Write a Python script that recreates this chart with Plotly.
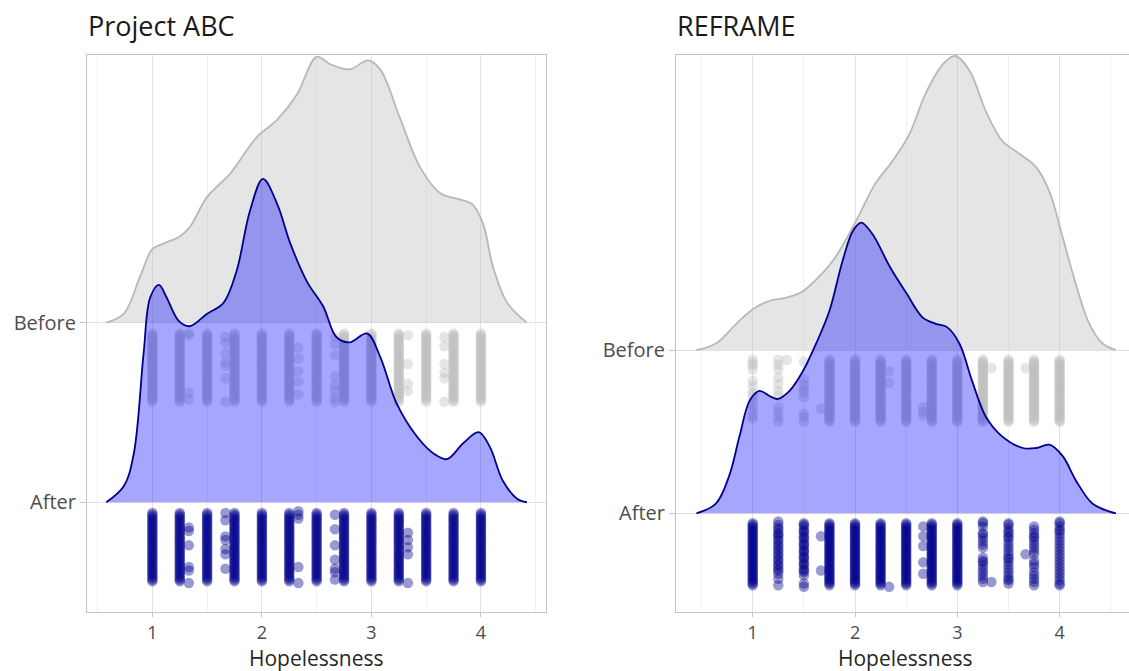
import plotly.graph_objects as go

# ---------------------------------------------------------------------------
# Ridge outlines: x position and ridge height (in category units above baseline)
# ---------------------------------------------------------------------------
abc_before_x = [0.58, 0.74, 0.89, 1.0, 1.1, 1.25, 1.34, 1.5, 1.71, 1.95, 2.14, 2.32, 2.5,
                2.62, 2.8, 2.97, 3.08, 3.26, 3.44, 3.63, 3.78, 3.92, 4.02, 4.11, 4.24, 4.42]
abc_before_h = [0.0, 0.05, 0.26, 0.41, 0.44, 0.48, 0.53, 0.70, 0.83, 1.03, 1.13, 1.27, 1.48,
                1.44, 1.41, 1.46, 1.41, 1.14, 0.87, 0.72, 0.69, 0.66, 0.55, 0.31, 0.11, 0.0]

abc_after_x = [0.58, 0.74, 0.83, 0.92, 0.98, 1.06, 1.13, 1.24, 1.34, 1.5, 1.65, 1.77, 1.89,
               2.01, 2.14, 2.26, 2.41, 2.56, 2.68, 2.8, 2.96, 3.08, 3.23, 3.41, 3.57, 3.69,
               3.84, 3.98, 4.08, 4.2, 4.33, 4.42]
abc_after_h = [0.0, 0.09, 0.27, 0.83, 1.14, 1.21, 1.14, 1.01, 0.98, 1.05, 1.11, 1.29, 1.62,
               1.80, 1.66, 1.44, 1.23, 1.09, 0.92, 0.89, 0.94, 0.81, 0.55, 0.37, 0.27, 0.24,
               0.33, 0.39, 0.31, 0.12, 0.02, 0.0]

reframe_before_x = [0.45, 0.64, 0.84, 1.0, 1.16, 1.33, 1.49, 1.65, 1.81, 2.01, 2.2, 2.37, 2.53,
                    2.69, 2.86, 2.98, 3.12, 3.28, 3.44, 3.61, 3.77, 3.9, 4.03, 4.16, 4.29, 4.42, 4.55]
reframe_before_h = [0.0, 0.04, 0.16, 0.25, 0.30, 0.32, 0.36, 0.45, 0.57, 0.79, 1.02, 1.16, 1.32,
                    1.57, 1.75, 1.80, 1.71, 1.46, 1.28, 1.20, 1.12, 0.97, 0.69, 0.40, 0.16, 0.04, 0.0]

reframe_after_x = [0.45, 0.64, 0.77, 0.87, 0.97, 1.065, 1.16, 1.24, 1.36, 1.49, 1.62, 1.75, 1.88,
                   1.98, 2.06, 2.17, 2.34, 2.5, 2.66, 2.79, 2.9, 3.02, 3.15, 3.28, 3.44, 3.64,
                   3.77, 3.9, 4.03, 4.16, 4.32, 4.49, 4.55]
reframe_after_h = [0.0, 0.06, 0.23, 0.47, 0.69, 0.75, 0.72, 0.70, 0.75, 0.87, 1.04, 1.24, 1.55,
                   1.73, 1.78, 1.71, 1.51, 1.35, 1.20, 1.16, 1.14, 1.04, 0.80, 0.59, 0.47, 0.40,
                   0.40, 0.42, 0.35, 0.20, 0.06, 0.01, 0.0]

# ---------------------------------------------------------------------------
# Individual responses: score -> vertical offsets below the ridge baseline
# ---------------------------------------------------------------------------
DENSE = [0.06, 0.07, 0.08, 0.09, 0.10, 0.11, 0.12, 0.13, 0.14, 0.15, 0.16, 0.17, 0.18,
         0.19, 0.20, 0.21, 0.22, 0.23, 0.24, 0.25, 0.26, 0.27, 0.28, 0.29, 0.30, 0.31,
         0.32, 0.33, 0.34, 0.35, 0.36, 0.37, 0.38, 0.39, 0.40, 0.41, 0.42, 0.43, 0.44]

abc_before_pts = {
    1.0: DENSE, 1.25: DENSE, 1.333: [0.06, 0.07, 0.39, 0.43], 1.5: DENSE,
    1.667: [0.08, 0.11, 0.17, 0.22, 0.24, 0.31, 0.44], 1.75: DENSE, 2.0: DENSE,
    2.25: DENSE, 2.333: [0.14, 0.20, 0.27, 0.33, 0.40], 2.5: DENSE,
    2.667: [0.08, 0.12, 0.18, 0.30, 0.35, 0.38, 0.42, 0.44], 2.75: DENSE, 3.0: DENSE,
    3.25: DENSE, 3.333: [0.07, 0.23, 0.34, 0.38], 3.5: DENSE,
    3.667: [0.08, 0.13, 0.23, 0.28, 0.31, 0.44], 3.75: DENSE, 4.0: DENSE,
}
abc_after_pts = {
    1.0: DENSE, 1.25: DENSE, 1.333: [0.14, 0.16, 0.24, 0.36, 0.38, 0.45], 1.5: DENSE,
    1.667: [0.06, 0.10, 0.19, 0.21, 0.26, 0.29, 0.37], 1.75: DENSE, 2.0: DENSE,
    2.25: DENSE, 2.333: [0.05, 0.07, 0.09, 0.36, 0.45], 2.5: DENSE,
    2.667: [0.07, 0.15, 0.24, 0.32, 0.37, 0.39, 0.43], 2.75: DENSE, 3.0: DENSE,
    3.25: DENSE, 3.333: [0.17, 0.21, 0.25, 0.29, 0.45], 3.5: DENSE, 3.75: DENSE, 4.0: DENSE,
}
reframe_before_pts = {
    1.0: [0.06, 0.08, 0.09, 0.12, 0.19, 0.22, 0.26, 0.28, 0.31, 0.34, 0.37, 0.40, 0.42],
    1.25: [0.06, 0.09, 0.12, 0.17, 0.21, 0.25, 0.28, 0.35, 0.38, 0.41, 0.44],
    1.333: [0.06],
    1.5: [0.07, 0.18, 0.21, 0.24, 0.26, 0.29, 0.39, 0.41, 0.44],
    1.667: [0.36], 1.75: DENSE, 2.0: DENSE, 2.25: DENSE, 2.333: [0.13, 0.20],
    2.5: DENSE, 2.667: [0.35, 0.38, 0.40], 2.75: DENSE, 3.0: DENSE, 3.25: DENSE,
    3.333: [0.11], 3.5: DENSE, 3.667: [0.11], 3.75: DENSE, 4.0: DENSE,
}
reframe_after_pts = {
    1.0: DENSE,
    1.25: [0.05, 0.07, 0.09, 0.10, 0.12, 0.13, 0.14, 0.16, 0.17, 0.19, 0.20, 0.22, 0.23,
           0.25, 0.26, 0.28, 0.29, 0.31, 0.32, 0.34, 0.35, 0.37, 0.40, 0.44],
    1.5: [0.06, 0.07, 0.08, 0.10, 0.11, 0.12, 0.14, 0.15, 0.16, 0.18, 0.19, 0.20, 0.22,
          0.23, 0.24, 0.26, 0.27, 0.28, 0.30, 0.31, 0.32, 0.34, 0.35, 0.36, 0.38, 0.43, 0.45],
    1.667: [0.14, 0.35], 1.75: DENSE, 2.0: DENSE, 2.25: DENSE, 2.333: [0.45],
    2.5: DENSE, 2.667: [0.08, 0.14, 0.20, 0.30, 0.37], 2.75: DENSE, 3.0: DENSE,
    3.25: [0.05, 0.06, 0.08, 0.12, 0.13, 0.15, 0.17, 0.19, 0.21, 0.27, 0.29, 0.30, 0.32,
           0.34, 0.36, 0.38, 0.40, 0.42],
    3.333: [0.42],
    3.5: [0.06, 0.07, 0.09, 0.11, 0.12, 0.14, 0.15, 0.17, 0.19, 0.21, 0.23, 0.25, 0.27,
          0.28, 0.30, 0.32, 0.34, 0.36, 0.38, 0.40, 0.41, 0.43],
    3.667: [0.25],
    3.75: [0.08, 0.10, 0.12, 0.14, 0.15, 0.17, 0.19, 0.21, 0.23, 0.25, 0.29, 0.31, 0.33,
           0.36, 0.38, 0.40, 0.42, 0.44],
    4.0: [0.05, 0.06, 0.08, 0.10, 0.11, 0.13, 0.15, 0.17, 0.19, 0.21, 0.23, 0.25, 0.27,
          0.29, 0.31, 0.33, 0.35, 0.37, 0.39, 0.41, 0.43, 0.44],
}

panel_titles = ["Project ABC", "REFRAME"]
group_labels = ["After", "Before"]
x_tick_vals = [1, 2, 3, 4]
x_title = "Hopelessness"

# ---------------------------------------------------------------------------
# Styling
# ---------------------------------------------------------------------------
W, H = 1129, 671
PLOT_TOP, PLOT_BOTTOM = 55, 612
FONT = "Open Sans"
GREY_FILL = "rgba(190,190,190,0.4)"
GREY_LINE = "#b8b8b8"
GREY_PT = "rgba(190,190,190,0.4)"
BLUE_FILL = "rgba(0,0,255,0.35)"
BLUE_LINE = "#00008B"
BLUE_PT = "rgba(0,0,139,0.4)"
GRID = "#e2e2e2"
GRID_MINOR = "#f1f1f1"
FRAME = "#c4c4c4"

fig = go.Figure()


def add_ridge(xs, hs, base, fill, line, xa, ya):
    # baseline that the ridge is filled down to
    fig.add_trace(go.Scatter(x=[xs[0], xs[-1]], y=[base, base], mode="lines",
                             line=dict(width=0, color="rgba(0,0,0,0)"),
                             xaxis=xa, yaxis=ya, hoverinfo="skip", showlegend=False))
    fig.add_trace(go.Scatter(x=xs, y=[base + h for h in hs], mode="lines",
                             line=dict(color=line, width=1.8, shape="spline", smoothing=1.0),
                             fill="tonexty", fillcolor=fill,
                             xaxis=xa, yaxis=ya, hoverinfo="skip", showlegend=False))


def add_points(pts, base, color, xa, ya):
    px, py = [], []
    for score, offsets in pts.items():
        for off in offsets:
            px.append(score)
            py.append(base - off)
    fig.add_trace(go.Scatter(x=px, y=py, mode="markers",
                             marker=dict(size=10.5, color=color, line=dict(width=0)),
                             xaxis=xa, yaxis=ya, hoverinfo="skip", showlegend=False))


# Project ABC panel
add_ridge(abc_before_x, abc_before_h, 2, GREY_FILL, GREY_LINE, "x", "y")
add_points(abc_before_pts, 2, GREY_PT, "x", "y")
add_ridge(abc_after_x, abc_after_h, 1, BLUE_FILL, BLUE_LINE, "x", "y")
add_points(abc_after_pts, 1, BLUE_PT, "x", "y")

# REFRAME panel
add_ridge(reframe_before_x, reframe_before_h, 2, GREY_FILL, GREY_LINE, "x2", "y2")
add_points(reframe_before_pts, 2, GREY_PT, "x2", "y2")
add_ridge(reframe_after_x, reframe_after_h, 1, BLUE_FILL, BLUE_LINE, "x2", "y2")
add_points(reframe_after_pts, 1, BLUE_PT, "x2", "y2")


def xaxis_style(dom, rng, anchor):
    return dict(domain=dom, range=rng, anchor=anchor, tickvals=x_tick_vals,
                ticktext=[str(v) for v in x_tick_vals],
                showgrid=True, gridcolor=GRID, gridwidth=1,
                minor=dict(tickvals=[0.5, 1.5, 2.5, 3.5, 4.5], showgrid=True,
                           gridcolor=GRID_MINOR, gridwidth=1, ticks=""),
                zeroline=False, showline=True, mirror=True, linecolor=FRAME, linewidth=1,
                ticks="outside", ticklen=4, tickcolor=FRAME,
                tickfont=dict(family=FONT, size=18, color="#4d4d4d"))


def yaxis_style(rng, anchor, mirror):
    return dict(domain=[0, 1], range=rng, anchor=anchor, tickvals=[1, 2],
                ticktext=group_labels, showgrid=True, gridcolor=GRID, gridwidth=1,
                zeroline=False, showline=True, mirror=mirror, linecolor=FRAME, linewidth=1,
                ticks="outside", ticklen=6, tickcolor=FRAME,
                tickfont=dict(family=FONT, size=20, color="#4d4d4d"))


left_dom = [87 / W, 546 / W]
right_dom = [676 / W, 1.0]

fig.update_layout(
    width=W, height=H,
    margin=dict(l=0, r=0, t=PLOT_TOP, b=H - PLOT_BOTTOM),
    paper_bgcolor="white", plot_bgcolor="white",
    showlegend=False,
    xaxis=xaxis_style(left_dom, [0.403, 4.594], "y"),
    yaxis=yaxis_style([0.389, 3.49], "x", True),
    xaxis2=xaxis_style(right_dom, [0.25, 4.678], "y2"),
    yaxis2=yaxis_style([0.396, 3.806], "x2", False),
)


def py_to_paper(py):
    return (PLOT_BOTTOM - py) / (PLOT_BOTTOM - PLOT_TOP)


title_font = dict(family=FONT, size=27, color="#1a1a1a")
axis_title_font = dict(family=FONT, size=21, color="#262626")
annotations = [
    dict(text=panel_titles[0], x=86 / W, y=py_to_paper(25), xref="paper", yref="paper",
         xanchor="left", yanchor="middle", showarrow=False, font=title_font),
    dict(text=panel_titles[1], x=675 / W, y=py_to_paper(25), xref="paper", yref="paper",
         xanchor="left", yanchor="middle", showarrow=False, font=title_font),
    dict(text=x_title, x=316 / W, y=py_to_paper(658), xref="paper", yref="paper",
         xanchor="center", yanchor="middle", showarrow=False, font=axis_title_font),
    dict(text=x_title, x=905 / W, y=py_to_paper(658), xref="paper", yref="paper",
         xanchor="center", yanchor="middle", showarrow=False, font=axis_title_font),
]
fig.update_layout(annotations=annotations)

fig.write_html("out.html")
